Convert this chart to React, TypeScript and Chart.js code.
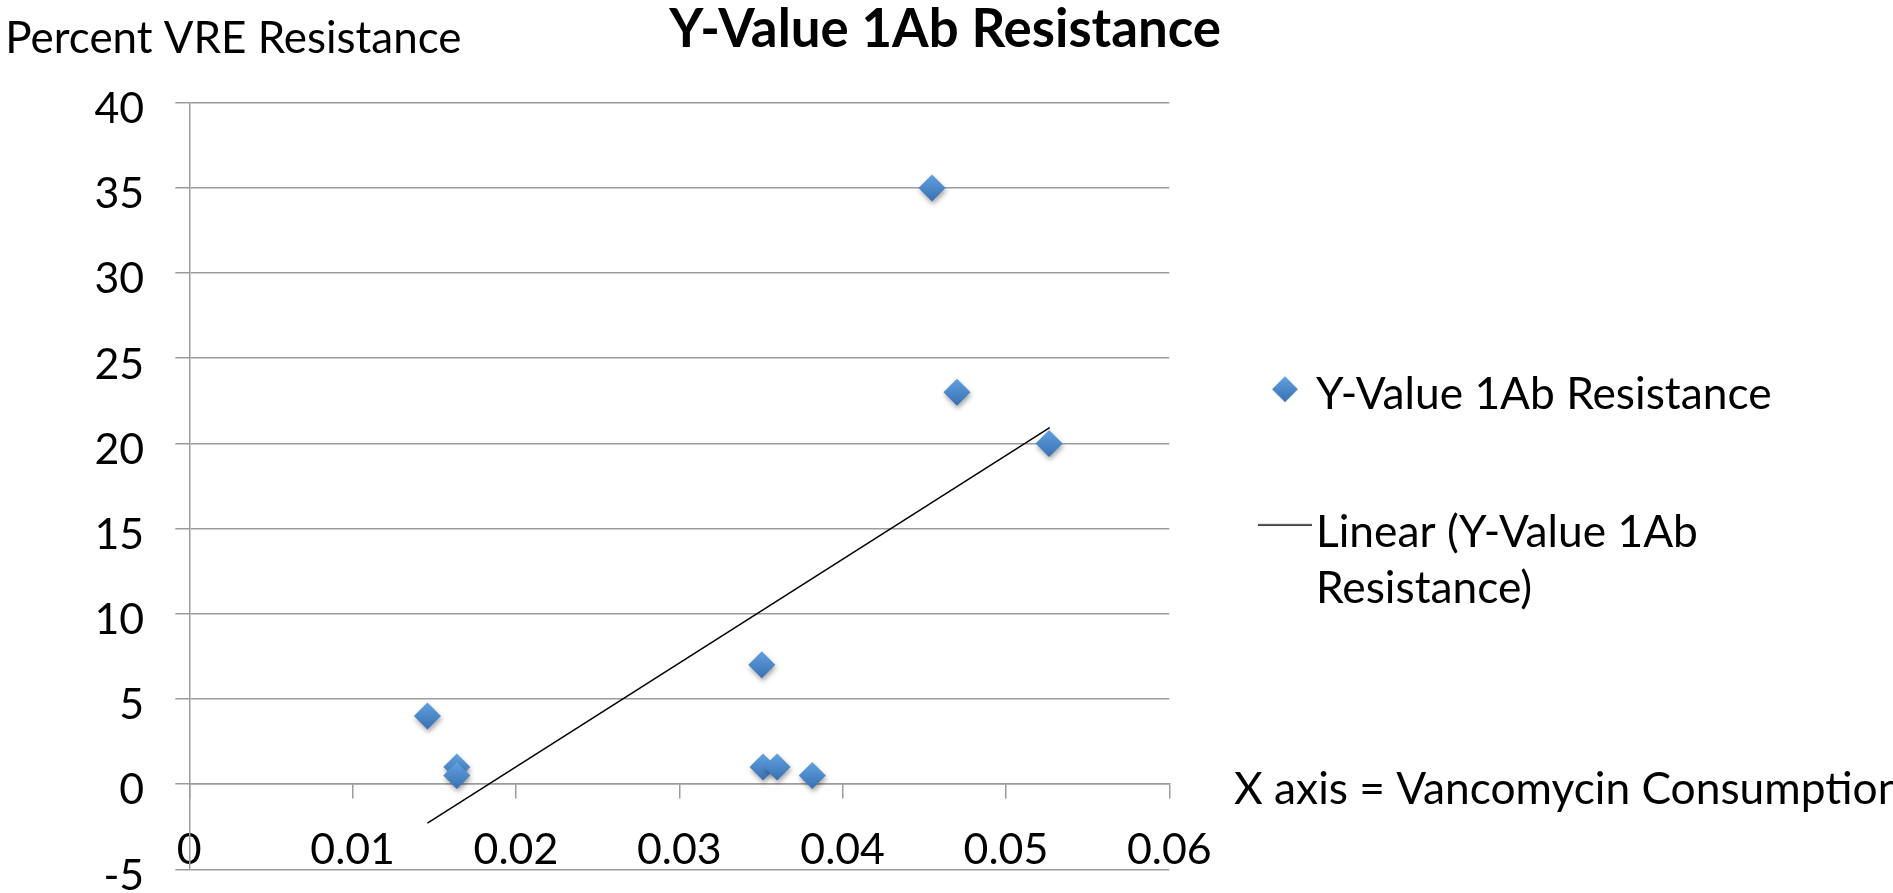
import React, { useEffect, useRef } from 'react';
import { Chart, registerables } from 'chart.js';

Chart.register(...registerables);

const W = 1893;
const H = 893;
const FONT = 'Lato, "Noto Sans", "DejaVu Sans", sans-serif';

// ---------- texts ----------
const chartTitle = 'Y-Value 1Ab Resistance';
const yAxisCaption = 'Percent VRE Resistance';
const xAxisNote = 'X axis = Vancomycin Consumption';
const seriesLabel = 'Y-Value 1Ab Resistance';
const trendLabel = ['Linear (Y-Value 1Ab', 'Resistance)'];

// ---------- data ----------
const vancomycinConsumption = [0.01458, 0.01638, 0.01638, 0.03505, 0.03513, 0.03599, 0.03814, 0.04547, 0.0470, 0.05264];
const vreResistance = [4, 1, 0.5, 7, 1, 1, 0.5, 35, 23, 20];
const trendX = [0.01458, 0.05268];
const trendY = [-2.29, 20.92];

const xTickValues = [0, 0.01, 0.02, 0.03, 0.04, 0.05, 0.06];
const xTickLabels = ['0', '0.01', '0.02', '0.03', '0.04', '0.05', '0.06'];
const yTickValues = [-5, 0, 5, 10, 15, 20, 25, 30, 35, 40];
const yTickLabels = ['-5', '0', '5', '10', '15', '20', '25', '30', '35', '40'];

// ---------- style ----------
const GRID = '#9C9C9C';
const POINT = '#4A86C8';
const POINT_LIGHT = '#62A1E0';
const POINT_DARK = '#3770B2';

// plot geometry of the reference (pixels)
const PLOT_LEFT = 189.3;
const PLOT_RIGHT = 1169.3;
const PLOT_TOP = 102.7;
const PLOT_BOTTOM = 869.3;

function computeMetrics() {
  const c = document.createElement('canvas').getContext('2d') as CanvasRenderingContext2D;
  const m = (text: string, size: number, weight: number, baseline: CanvasTextBaseline = 'alphabetic') => {
    c.font = `${weight} ${size}px ${FONT}`;
    c.textBaseline = baseline;
    c.textAlign = 'left';
    return c.measureText(text);
  };
  const fit = (text: string, ink: number, weight: number) => {
    const r = m(text, 100, weight);
    return (100 * ink) / (r.actualBoundingBoxLeft + r.actualBoundingBoxRight);
  };
  const capOff = (size: number, weight: number, sample: string) => {
    const r = m(sample, size, weight, 'middle');
    return (r.actualBoundingBoxDescent - r.actualBoundingBoxAscent) / 2;
  };
  const abl = (text: string, size: number, weight: number) => m(text, size, weight).actualBoundingBoxLeft;

  // title & free texts
  const fsTitle = fit(chartTitle, 551, 700);
  const title = { size: fsTitle, x: 668.3 + abl(chartTitle, fsTitle, 700), y: 27.5 - capOff(fsTitle, 700, 'H') };
  const fsCap = fit(yAxisCaption, 450.7, 400);
  const caption = { size: fsCap, x: 9.3 + abl(yAxisCaption, fsCap, 400), y: 36.7 - capOff(fsCap, 400, 'H') };

  // legend
  const fsL = fit(seriesLabel, 454, 400);
  const offL = capOff(fsL, 400, 'H');
  const note = { size: fsL, x: 1234 + abl(xAxisNote, fsL, 400), y: 788.3 - offL };
  const middle1 = 393 - offL;
  const middle2 = 531 - offL;
  const P = middle2 - middle1 - fsL;
  const ox = 1316 + abl(seriesLabel, fsL, 400);
  const bw = Math.max(1, 2 * (ox - 1285) - fsL);
  const itemX = 1285 - bw / 2;
  const legendLeft = itemX - P;
  const gap = Math.max(0, legendLeft - PLOT_RIGHT);
  const y1 = middle1 - fsL / 2;
  const T = y1 - PLOT_TOP - P;
  const longest = Math.max(m(seriesLabel, fsL, 400).width, m(trendLabel[0], fsL, 400).width);
  const computedW = P + bw + fsL / 2 + longest + 10;
  const legendW = Math.min(computedW - 2, W - legendLeft);
  const padR = Math.max(0, W - legendLeft - legendW);
  const diamondOff = middle1 - 389.3;
  const lineOff = middle2 - 525;

  // ticks
  const fsT = fit('0.06', 81.7, 400);
  const offT = capOff(fsT, 400, '0');
  const y0px = PLOT_TOP + (40 / 45) * (PLOT_BOTTOM - PLOT_TOP);
  const xPad = 848.3 - y0px - 14 - 0.6 * fsT - offT;
  const r40 = m('40', fsT, 400);
  const rsb = r40.width - r40.actualBoundingBoxRight;
  const yPad = 32 - rsb;
  const yLabelOffset = 4.8 - offT;

  return { title, caption, note, fsL, P, bw, gap, T, legendW, padR, diamondOff, lineOff, fsT, xPad, yPad, yLabelOffset };
}

function diamondIcon(off: number) {
  const cv = document.createElement('canvas');
  const h = 30 + Math.ceil(Math.abs(off)) * 2;
  cv.width = 30;
  cv.height = h;
  const g = cv.getContext('2d') as CanvasRenderingContext2D;
  const cx = 15;
  const cy = h / 2 - off;
  const r = 13;
  const grad = g.createLinearGradient(0, cy - r, 0, cy + r);
  grad.addColorStop(0, POINT_LIGHT);
  grad.addColorStop(1, POINT_DARK);
  g.fillStyle = grad;
  g.beginPath();
  g.moveTo(cx, cy - r);
  g.lineTo(cx + r, cy);
  g.lineTo(cx, cy + r);
  g.lineTo(cx - r, cy);
  g.closePath();
  g.fill();
  return cv;
}

function lineIcon(off: number) {
  const cv = document.createElement('canvas');
  const h = 4 + Math.ceil(Math.abs(off)) * 2;
  cv.width = 54;
  cv.height = h;
  const g = cv.getContext('2d') as CanvasRenderingContext2D;
  g.fillStyle = '#000';
  g.fillRect(0, h / 2 - off - 0.75, 54, 1.5);
  return cv;
}

export default function App() {
  const ref = useRef<HTMLCanvasElement>(null);

  useEffect(() => {
    const canvas = ref.current;
    if (!canvas) return;
    Chart.defaults.font.family = FONT;
    const M = computeMetrics();
    const dIcon = diamondIcon(M.diamondOff);
    const lIcon = lineIcon(M.lineOff);

    const shadowPlugin = {
      id: 'pointShadow',
      beforeDatasetDraw(chart: any, args: any) {
        if (args.index !== 0) return;
        const ctx = chart.ctx;
        ctx.save();
        ctx.shadowColor = 'rgba(0,0,0,0.35)';
        ctx.shadowBlur = 5;
        ctx.shadowOffsetX = 1;
        ctx.shadowOffsetY = 3;
      },
      afterDatasetDraw(chart: any, args: any) {
        if (args.index !== 0) return;
        chart.ctx.restore();
      },
    };

    const textPlugin = {
      id: 'freeTexts',
      afterDraw(chart: any) {
        const ctx = chart.ctx as CanvasRenderingContext2D;
        ctx.save();
        ctx.fillStyle = '#000';
        ctx.textAlign = 'left';
        ctx.textBaseline = 'middle';
        ctx.font = `700 ${M.title.size}px ${FONT}`;
        ctx.fillText(chartTitle, M.title.x, M.title.y);
        ctx.font = `400 ${M.caption.size}px ${FONT}`;
        ctx.fillText(yAxisCaption, M.caption.x, M.caption.y);
        ctx.font = `400 ${M.note.size}px ${FONT}`;
        ctx.fillText(xAxisNote, M.note.x, M.note.y);
        ctx.restore();
      },
    };

    const tickFont = { family: FONT, size: M.fsT, lineHeight: 1.2 };

    const chart = new Chart(canvas, {
      type: 'scatter',
      data: {
        datasets: [
          {
            label: seriesLabel,
            xAxisID: 'x',
            yAxisID: 'y',
            data: vancomycinConsumption.map((x, i) => ({ x, y: vreResistance[i] })),
            pointStyle: 'rectRot',
            pointRadius: 13.5,
            borderWidth: 0,
            borderColor: POINT,
            backgroundColor: (c: any) => {
              try {
                if (c.type !== 'data' || !c.parsed || !c.chart.chartArea) return POINT;
                const py = c.chart.scales.y.getPixelForValue(c.parsed.y);
                const g = c.chart.ctx.createLinearGradient(0, py - 13.5, 0, py + 13.5);
                g.addColorStop(0, POINT_LIGHT);
                g.addColorStop(1, POINT_DARK);
                return g;
              } catch (e) {
                return POINT;
              }
            },
            order: 1,
          } as any,
          {
            label: trendLabel.join(' '),
            xAxisID: 'x',
            yAxisID: 'y',
            data: trendX.map((x, i) => ({ x, y: trendY[i] })),
            showLine: true,
            borderColor: '#000',
            borderWidth: 1.5,
            pointRadius: 0,
            backgroundColor: '#000',
            order: 0,
          } as any,
        ],
      },
      options: {
        animation: false,
        responsive: false,
        maintainAspectRatio: false,
        devicePixelRatio: 1,
        events: [],
        layout: {
          padding: { left: 0, top: PLOT_TOP, bottom: H - PLOT_BOTTOM, right: M.padR },
        },
        scales: {
          x: {
            type: 'linear',
            position: { y: 0 } as any,
            min: 0,
            max: 0.06,
            afterBuildTicks: (s: any) => {
              s.ticks = xTickValues.map((v) => ({ value: v }));
            },
            afterFit: (s: any) => {
              s.paddingLeft = 0;
              s.paddingRight = 0;
            },
            ticks: {
              callback: (v: any, i: number) => xTickLabels[i] ?? String(v),
              autoSkip: false,
              maxRotation: 0,
              minRotation: 0,
              padding: M.xPad,
              color: '#000',
              font: tickFont,
            },
            grid: { drawOnChartArea: false, drawTicks: true, tickLength: 14, color: GRID, lineWidth: 1.5 },
            border: { display: true, color: GRID, width: 1.5 },
          },
          y: {
            type: 'linear',
            position: 'left',
            min: -5,
            max: 40,
            afterBuildTicks: (s: any) => {
              s.ticks = yTickValues.map((v) => ({ value: v }));
            },
            afterFit: (s: any) => {
              s.width = PLOT_LEFT;
              s.paddingTop = 0;
              s.paddingBottom = 0;
            },
            ticks: {
              callback: (v: any, i: number) => yTickLabels[i] ?? String(v),
              autoSkip: false,
              padding: M.yPad,
              labelOffset: M.yLabelOffset,
              color: '#000',
              font: tickFont,
            },
            grid: { drawTicks: true, tickLength: 14, color: GRID, lineWidth: 1.5 },
            border: { display: true, color: GRID, width: 1.5 },
          },
          gap: {
            type: 'linear',
            position: 'right',
            display: true,
            grid: { display: false },
            border: { display: false },
            ticks: { display: false },
            afterFit: (s: any) => {
              s.width = M.gap;
              s.paddingTop = 0;
              s.paddingBottom = 0;
            },
          },
        } as any,
        plugins: {
          title: { display: false },
          tooltip: { enabled: false },
          legend: {
            display: true,
            position: 'right',
            align: 'start',
            maxWidth: M.legendW,
            title: {
              display: true,
              text: '',
              padding: { top: Math.max(0, M.T - 10), bottom: 0 },
              font: { size: 10, lineHeight: 1 },
            },
            labels: {
              usePointStyle: true,
              boxWidth: M.bw,
              boxHeight: M.fsL,
              padding: M.P,
              color: '#000',
              font: { family: FONT, size: M.fsL, lineHeight: 56 / M.fsL },
              generateLabels: () => [
                {
                  text: seriesLabel,
                  fillStyle: POINT,
                  strokeStyle: POINT,
                  lineWidth: 0,
                  pointStyle: dIcon,
                  hidden: false,
                  datasetIndex: 0,
                  fontColor: '#000',
                },
                {
                  text: trendLabel,
                  fillStyle: '#000',
                  strokeStyle: '#000',
                  lineWidth: 0,
                  pointStyle: lIcon,
                  hidden: false,
                  datasetIndex: 1,
                  fontColor: '#000',
                },
              ] as any,
            },
          },
        },
      } as any,
      plugins: [shadowPlugin, textPlugin],
    });

    return () => chart.destroy();
  }, []);

  return (
    <div style={{ position: 'absolute', left: 0, top: 0, width: W, height: H, background: '#fff', overflow: 'hidden' }}>
      <canvas ref={ref} width={W} height={H} style={{ display: 'block', width: W, height: H }} />
    </div>
  );
}
